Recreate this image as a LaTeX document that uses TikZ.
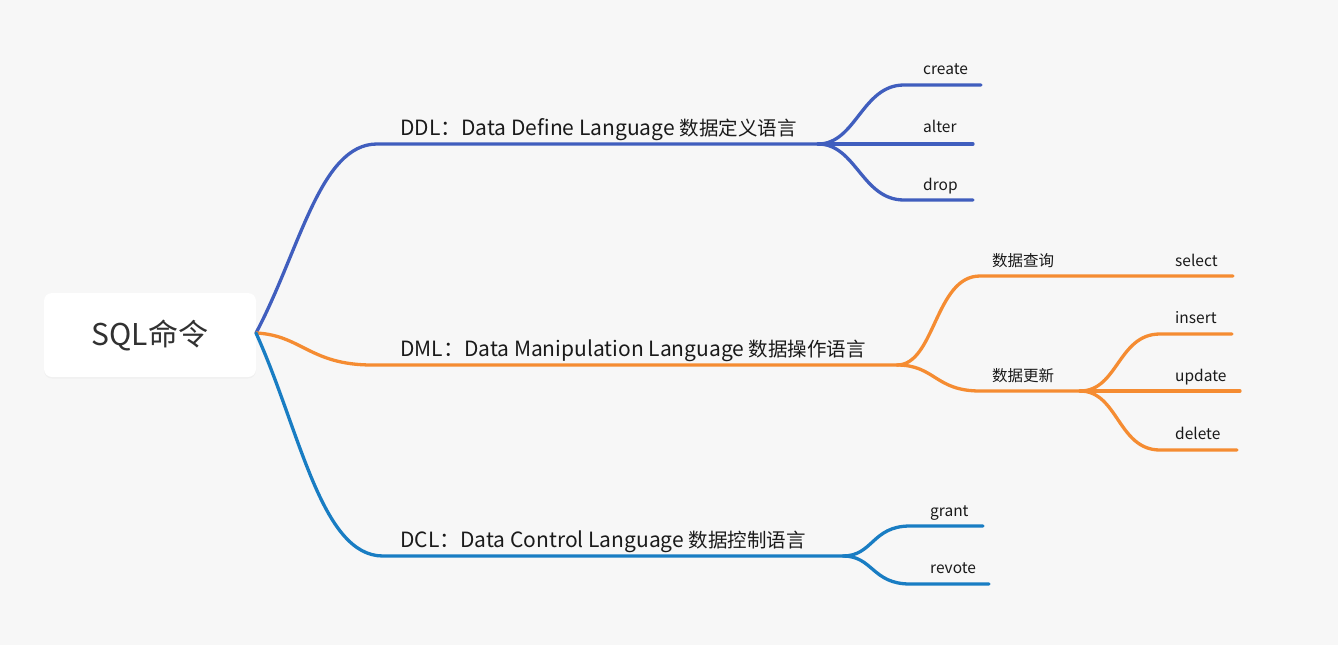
\documentclass[tikz,border=0pt]{standalone}
\usepackage{fontspec}
\setmainfont{Noto Sans CJK SC}
\usetikzlibrary{shadows}
\definecolor{bggray}{HTML}{F7F7F7}
\definecolor{ddlblue}{HTML}{405EBE}
\definecolor{dmlorange}{HTML}{F58C32}
\definecolor{dclblue}{HTML}{197DC3}
\definecolor{ink}{HTML}{1A1A1A}
\newcommand{\zh}[1]{{\fontsize{19.5}{22}\selectfont #1}}
\tikzset{
    branch/.style={line width=3.3pt, line cap=round},
    topic/.style={font=\fontsize{21}{24}\selectfont, text=ink, inner sep=0pt, anchor=base west},
    leaf/.style={font=\fontsize{15.5}{18}\selectfont, text=ink, inner sep=0pt, anchor=base west},
}
\begin{document}
\begin{tikzpicture}[x=1pt,y=-1pt]
        \fill[bggray] (0,0) rectangle (1338,645);
        \useasboundingbox (0,0) rectangle (1338,645);
        % root
        \node[fill=white, rounded corners=8pt, minimum width=212pt, minimum height=84pt,
              drop shadow={opacity=0.06, shadow xshift=0pt, shadow yshift=-1.5pt}] (sql) at (150,335)
              {\fontsize{30}{34}\selectfont\color{ink!90}SQL命令};
        \coordinate (root) at (256,333);
        % DDL
        \coordinate (ddl-a) at (377,144);
        \coordinate (ddl-b) at (818,144);
        \draw[branch, ddlblue] (root) .. controls +(44,-83) and +(-57,0) .. (ddl-a) -- (ddl-b);
        \node[topic] (ddl) at (400,135) {DDL：Data Define Language \zh{数据定义语言}};
        \foreach \name/\y/\x in {create/85/981, drop/200/973}{
            \coordinate (\name-a) at (904,\y);
            \coordinate (\name-b) at (\x,\y);
            \draw[branch, ddlblue] (ddl-b) .. controls +(38,0) and +(-42,0) .. (\name-a) -- (\name-b);
        }
        \coordinate (alter-b) at (973,144);
        \draw[branch, ddlblue] (ddl-b) -- (alter-b);
        \node[leaf] (create) at (923,74) {create};
        \node[leaf] (alter) at (923,132) {alter};
        \node[leaf] (drop) at (923,190) {drop};
        % DML
        \coordinate (dml-a) at (372,365);
        \coordinate (dml-b) at (897,365);
        \draw[branch, dmlorange] (root) .. controls +(45,2) and +(-62,0) .. (dml-a) -- (dml-b);
        \node[topic] (dml) at (400,356) {DML：Data Manipulation Language \zh{数据操作语言}};
        \coordinate (query-a) at (980,276);
        \coordinate (query-b) at (1233,276);
        \coordinate (update-a) at (980,391);
        \coordinate (update-b) at (1080,391);
        \draw[branch, dmlorange] (dml-b) .. controls +(38,0) and +(-45,0) .. (query-a) -- (query-b);
        \draw[branch, dmlorange] (dml-b) .. controls +(38,0) and +(-45,0) .. (update-a) -- (update-b);
        \node[leaf] (query) at (992,266) {数据查询};
        \node[leaf] (modify) at (992,381) {数据更新};
        \node[leaf] (select) at (1175,266) {select};
        \foreach \name/\y/\x in {insert/334/1232, delete/450/1237}{
            \coordinate (\name-a) at (1160,\y);
            \coordinate (\name-b) at (\x,\y);
            \draw[branch, dmlorange] (update-b) .. controls +(38,0) and +(-42,0) .. (\name-a) -- (\name-b);
        }
        \coordinate (upd-b) at (1240,391);
        \draw[branch, dmlorange] (update-b) -- (upd-b);
        \node[leaf] (insert) at (1175,323) {insert};
        \node[leaf] (update) at (1175,381) {update};
        \node[leaf] (delete) at (1175,439) {delete};
        % DCL
        \coordinate (dcl-a) at (383,556);
        \coordinate (dcl-b) at (843,556);
        \draw[branch, dclblue] (root) .. controls +(44,97) and +(-62,0) .. (dcl-a) -- (dcl-b);
        \node[topic] (dcl) at (400,547) {DCL：Data Control Language \zh{数据控制语言}};
        \foreach \name/\y/\x in {grant/526/983, revote/584/989}{
            \coordinate (\name-a) at (910,\y);
            \coordinate (\name-b) at (\x,\y);
            \draw[branch, dclblue] (dcl-b) .. controls +(30,0) and +(-38,0) .. (\name-a) -- (\name-b);
        }
        \node[leaf] (grant) at (930,516) {grant};
        \node[leaf] (revote) at (930,573) {revote};
    \end{tikzpicture}
\end{document}
